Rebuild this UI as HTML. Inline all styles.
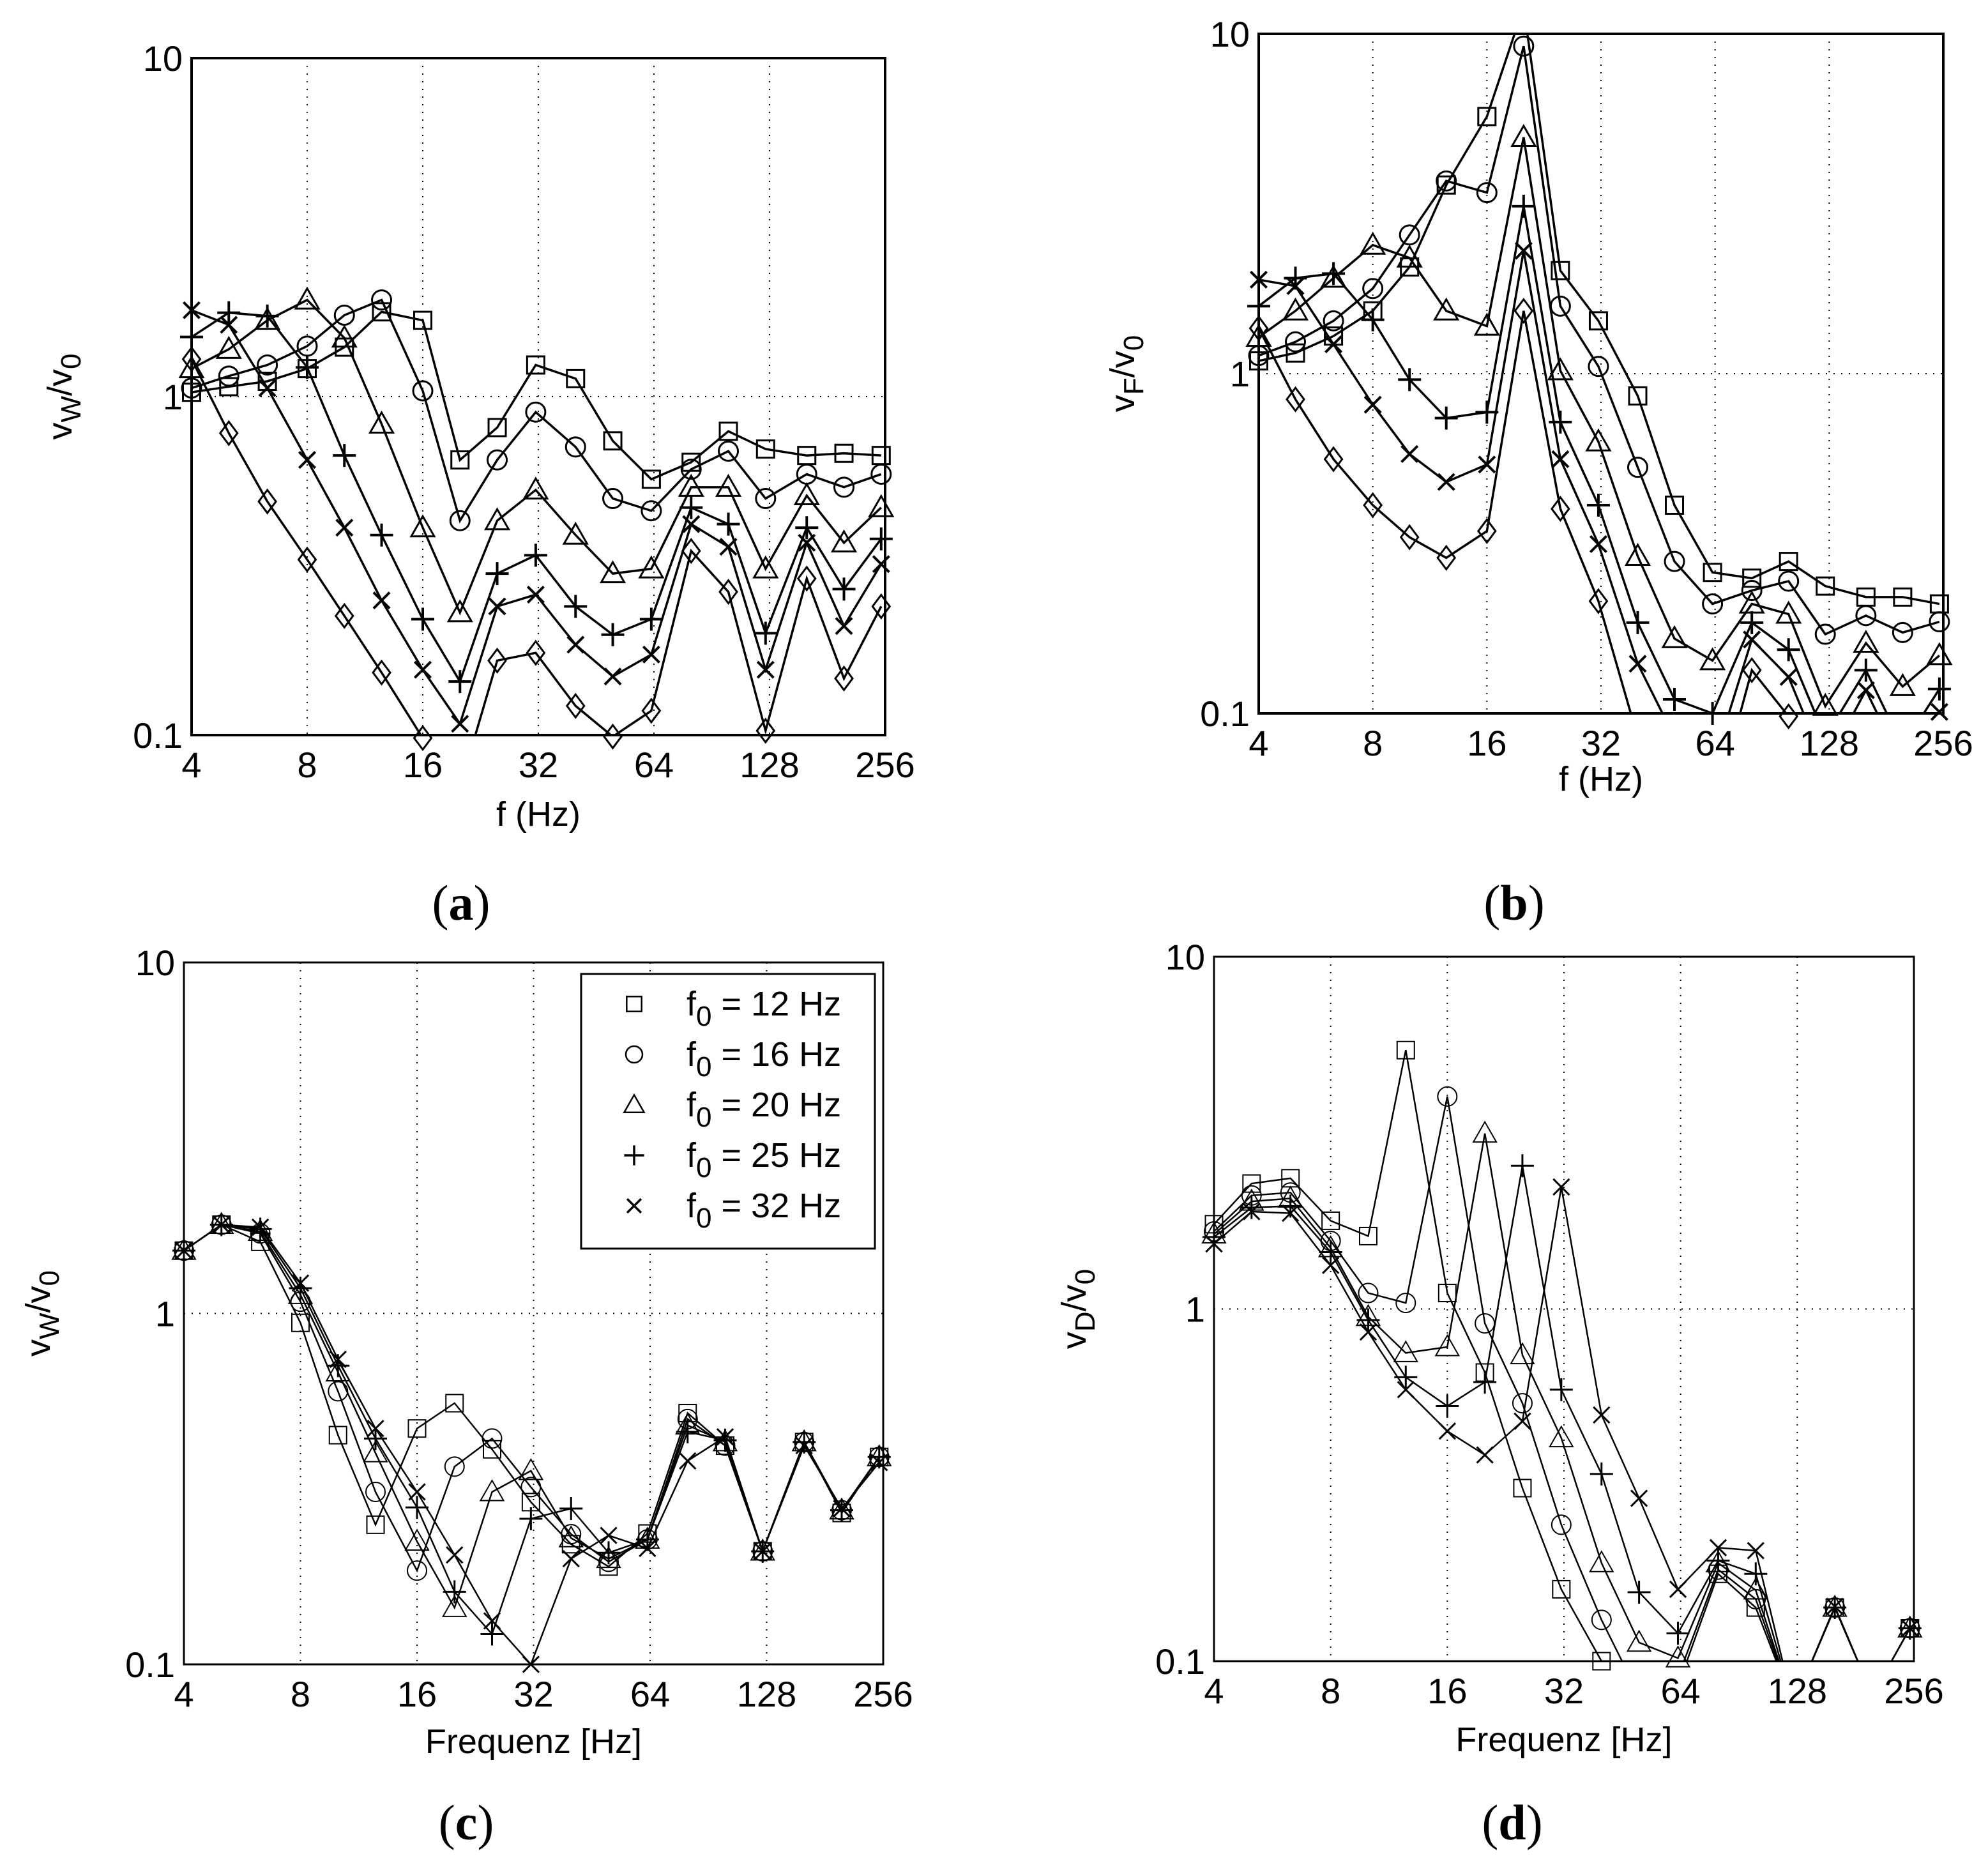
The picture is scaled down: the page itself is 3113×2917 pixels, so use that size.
<!DOCTYPE html>
<html><head><meta charset="utf-8"><style>
html,body{margin:0;padding:0;background:#fff;}
svg{display:block;}
text{font-family:"Liberation Sans",Arial,sans-serif;fill:#000;}
.cap{font-family:"Liberation Serif",serif;}
</style></head>
<body>
<svg id="fig" xmlns="http://www.w3.org/2000/svg" width="3113" height="2917" viewBox="0 0 3113 2917"></svg>
<script>
// shared x categories (third-octave frequencies, Hz)
const freqs = [4,5,6.3,8,10,12.5,16,20,25,31.5,40,50,63,80,100,125,160,200,250];
const xTicks = [4,8,16,32,64,128,256];
const yTicks = [0.1,1,10];
const yTickLabels = ["0.1","1","10"];
const legendLabels = ["12","16","20","25","32"];

// panel (a) vW/v0
const aSquare  = [1.03,1.07,1.11,1.21,1.40,1.78,1.68,0.65,0.81,1.24,1.13,0.74,0.57,0.64,0.79,0.70,0.67,0.68,0.67];
const aCircle  = [1.06,1.15,1.24,1.41,1.74,1.93,1.04,0.43,0.65,0.90,0.71,0.50,0.46,0.61,0.69,0.50,0.59,0.54,0.59];
const aTri     = [1.21,1.38,1.68,1.93,1.49,0.83,0.41,0.23,0.43,0.53,0.39,0.30,0.31,0.54,0.54,0.31,0.51,0.37,0.47];
const aPlus    = [1.50,1.77,1.73,1.22,0.67,0.39,0.22,0.144,0.30,0.34,0.24,0.198,0.22,0.47,0.42,0.20,0.41,0.27,0.38];
const aCross   = [1.80,1.63,1.06,0.65,0.41,0.25,0.156,0.108,0.24,0.26,0.185,0.149,0.173,0.42,0.36,0.156,0.37,0.21,0.32];
const aDiamond = [1.29,0.78,0.49,0.33,0.225,0.153,0.098,0.07,0.166,0.175,0.122,0.099,0.118,0.35,0.265,0.103,0.29,0.147,0.24];

// panel (b) vF/v0
const bSquare  = [1.09,1.15,1.29,1.53,2.06,3.59,5.71,12,2.01,1.43,0.86,0.41,0.26,0.25,0.28,0.237,0.22,0.22,0.21];
const bCircle  = [1.13,1.24,1.43,1.78,2.56,3.69,3.41,9.2,1.58,1.05,0.53,0.28,0.21,0.23,0.245,0.171,0.194,0.173,0.186];
const bTri     = [1.28,1.53,1.91,2.39,2.19,1.53,1.38,4.96,1.02,0.63,0.29,0.166,0.143,0.21,0.196,0.105,0.161,0.12,0.148];
const bPlus    = [1.58,1.91,1.97,1.44,0.96,0.74,0.77,3.11,0.72,0.41,0.185,0.110,0.1,0.185,0.154,0.085,0.134,0.08,0.118];
const bCross   = [1.89,1.81,1.22,0.81,0.58,0.48,0.54,2.30,0.56,0.315,0.14,0.085,0.07,0.165,0.128,0.07,0.117,0.07,0.101];
const bDiamond = [1.36,0.84,0.56,0.41,0.33,0.287,0.344,1.53,0.40,0.214,0.085,0.06,0.05,0.134,0.098,0.06,0.085,0.055,0.065];

// panel (c) vW/v0
const cSquare = [1.51,1.79,1.60,0.94,0.45,0.25,0.47,0.555,0.41,0.29,0.22,0.19,0.236,0.52,0.42,0.21,0.43,0.27,0.39];
const cCircle = [1.51,1.79,1.69,1.08,0.60,0.31,0.185,0.366,0.44,0.32,0.235,0.196,0.227,0.50,0.42,0.21,0.43,0.275,0.39];
const cTri    = [1.51,1.79,1.71,1.13,0.68,0.40,0.224,0.145,0.31,0.356,0.229,0.20,0.227,0.48,0.43,0.21,0.43,0.275,0.39];
const cPlus   = [1.51,1.79,1.74,1.18,0.71,0.44,0.28,0.161,0.122,0.26,0.278,0.208,0.227,0.46,0.435,0.21,0.43,0.275,0.39];
const cCross  = [1.51,1.79,1.76,1.22,0.74,0.47,0.31,0.205,0.133,0.1,0.20,0.233,0.214,0.38,0.445,0.21,0.42,0.278,0.376];

// panel (d) vD/v0
const dSquare = [1.74,2.27,2.35,1.78,1.61,5.43,1.11,0.66,0.31,0.160,0.1,0.07,0.085,0.177,0.142,0.075,0.142,0.08,0.124];
const dCircle = [1.66,2.10,2.14,1.56,1.11,1.04,4.01,0.91,0.54,0.244,0.131,0.08,0.09,0.182,0.15,0.075,0.142,0.08,0.124];
const dTri    = [1.63,2.02,2.06,1.49,0.95,0.75,0.78,3.15,0.74,0.43,0.19,0.113,0.102,0.19,0.159,0.075,0.142,0.08,0.124];
const dPlus   = [1.60,1.94,1.96,1.45,0.93,0.64,0.53,0.62,2.55,0.59,0.34,0.157,0.12,0.193,0.177,0.075,0.142,0.08,0.124];
const dCross  = [1.53,1.89,1.87,1.33,0.86,0.59,0.45,0.385,0.48,2.22,0.50,0.29,0.16,0.21,0.206,0.075,0.143,0.08,0.124];

const NS = "http://www.w3.org/2000/svg";
const svg = document.getElementById("fig");
function mk(tag, attrs, parent){
  const e = document.createElementNS(NS, tag);
  for (const k in attrs) e.setAttribute(k, attrs[k]);
  (parent||svg).appendChild(e);
  return e;
}

function drawMarker(g, type, x, y, s, sw){
  let m;
  if (type==="square") m = mk("rect",{x:x-s*0.45,y:y-s*0.45,width:s*0.9,height:s*0.9,fill:"none",stroke:"#000","stroke-width":sw},g);
  else if (type==="circle") m = mk("circle",{cx:x,cy:y,r:s*0.5,fill:"none",stroke:"#000","stroke-width":sw},g);
  else if (type==="tri") m = mk("polygon",{points:`${x},${y-s*0.6} ${x-s*0.6},${y+s*0.45} ${x+s*0.6},${y+s*0.45}`,fill:"none",stroke:"#000","stroke-width":sw},g);
  else if (type==="diamond") m = mk("polygon",{points:`${x},${y-s*0.6} ${x+s*0.45},${y} ${x},${y+s*0.6} ${x-s*0.45},${y}`,fill:"none",stroke:"#000","stroke-width":sw},g);
  else if (type==="plus") m = mk("path",{d:`M${x-s*0.6},${y}H${x+s*0.6}M${x},${y-s*0.6}V${y+s*0.6}`,stroke:"#000","stroke-width":sw+1,fill:"none"},g);
  else m = mk("path",{d:`M${x-s*0.42},${y-s*0.42}L${x+s*0.42},${y+s*0.42}M${x-s*0.42},${y+s*0.42}L${x+s*0.42},${y-s*0.42}`,stroke:"#000","stroke-width":sw+1,fill:"none"},g);
  return m;
}

function drawPanel(p){
  const g = mk("g",{});
  
  
  const W = p.x1-p.x0, H = p.y1-p.y0;
  const xs = f => p.x0 + Math.log2(f/4)/6*W;
  const ys = v => p.y1 - (Math.log10(v)+1)/2*H;
  const cid = "clip-"+p.id;
  const defs = mk("defs",{},g);
  const cp = mk("clipPath",{id:cid},defs);
  mk("rect",{x:p.x0,y:p.y0,width:W,height:H},cp);
  xTicks.forEach(t=>{
    const l = mk("line",{x1:xs(t),x2:xs(t),y1:p.y0,y2:p.y1,stroke:"#000","stroke-width":2,"stroke-dasharray":"2,10"},g);
    
    
    const tx = mk("text",{x:xs(t),y:p.y1+66,"font-size":56,"text-anchor":"middle"},g);
    tx.textContent = String(t);
    
    
  });
  yTicks.forEach((t,i)=>{
    const l = mk("line",{x1:p.x0,x2:p.x1,y1:ys(t),y2:ys(t),stroke:"#000","stroke-width":2,"stroke-dasharray":"2,10"},g);
    
    
    const tx = mk("text",{x:p.x0-14,y:ys(t)+20,"font-size":56,"text-anchor":"end"},g);
    tx.textContent = yTickLabels[i];
    
    
  });
  p.series.forEach(s=>{
    const sg = mk("g",{},g);
    
    
    const pts = s.data.map((v,i)=>`${xs(freqs[i])},${ys(v)}`).join(" ");
    const pl = mk("polyline",{points:pts,fill:"none",stroke:"#000","stroke-width":p.lw,"clip-path":`url(#${cid})`},sg);
    
    
    s.data.forEach((v,i)=>{
      if (v < 0.097 || v > 10.3) return;
      const m = drawMarker(sg, s.type, xs(freqs[i]), ys(v), p.ms, p.lw-0.5);
      
      
    });
  });
  const fr = mk("rect",{x:p.x0,y:p.y0,width:W,height:H,fill:"none",stroke:"#000","stroke-width":p.fw},g);
  
  
  const xt = mk("text",{x:(p.x0+p.x1)/2,y:p.xtY,"font-size":54,"text-anchor":"middle"},g);
  xt.textContent = p.xtitle;
  
  
  const ycx = p.ytX, ycy = (p.y0+p.y1)/2;
  const yt = mk("text",{x:ycx,y:ycy,"font-size":54,"text-anchor":"middle",transform:`rotate(-90 ${ycx} ${ycy})`},g);
  
  
  yt.innerHTML = `v<tspan dy="14" font-size="44">${p.ysub}</tspan><tspan dy="-14">/v</tspan><tspan dy="14" font-size="44">0</tspan>`;
  const cap = mk("text",{x:p.capX,y:p.capY,"font-size":78,"text-anchor":"middle","class":"cap"},g);
  cap.innerHTML = `(<tspan font-weight="bold">${p.id}</tspan>)`;
  
  
  return {g, xs, ys};
}

drawPanel({id:"a",name:"panel-a",x0:300,x1:1386,y0:91,y1:1151,lw:3.5,ms:30,fw:4,xtitle:"f (Hz)",xtY:1293,ytX:112,ysub:"W",capX:722,capY:1440,
  series:[{type:"square",data:aSquare},{type:"circle",data:aCircle},{type:"tri",data:aTri},{type:"plus",data:aPlus},{type:"cross",data:aCross},{type:"diamond",data:aDiamond}]});
drawPanel({id:"b",name:"panel-b",x0:1971,x1:3043,y0:53,y1:1117,lw:3.5,ms:30,fw:4,xtitle:"f (Hz)",xtY:1238,ytX:1776,ysub:"F",capX:2371,capY:1440,
  series:[{type:"square",data:bSquare},{type:"circle",data:bCircle},{type:"tri",data:bTri},{type:"plus",data:bPlus},{type:"cross",data:bCross},{type:"diamond",data:bDiamond}]});
drawPanel({id:"c",name:"panel-c",x0:288,x1:1383,y0:1507,y1:2606,lw:2.5,ms:30,fw:3,xtitle:"Frequenz [Hz]",xtY:2745,ytX:78,ysub:"W",capX:730,capY:2880,
  series:[{type:"square",data:cSquare},{type:"circle",data:cCircle},{type:"tri",data:cTri},{type:"plus",data:cPlus},{type:"cross",data:cCross}]});
drawPanel({id:"d",name:"panel-d",x0:1901,x1:2997,y0:1498,y1:2601,lw:2.5,ms:30,fw:3,xtitle:"Frequenz [Hz]",xtY:2742,ytX:1700,ysub:"D",capX:2368,capY:2880,
  series:[{type:"square",data:dSquare},{type:"circle",data:dCircle},{type:"tri",data:dTri},{type:"plus",data:dPlus},{type:"cross",data:dCross}]});

const lg = mk("g",{});


const lbox = mk("rect",{x:910,y:1525,width:460,height:430,fill:"#fff",stroke:"#000","stroke-width":3},lg);


const ltypes = ["square","circle","tri","plus","cross"];
legendLabels.forEach((lab,i)=>{
  const y = 1572 + i*79;
  const e = mk("g",{},lg);
  
  
  drawMarker(e, ltypes[i], 993, y, 26, 2.5);
  const t = mk("text",{x:1075,y:y+18,"font-size":54},e);
  t.innerHTML = `f<tspan dy="16" font-size="44">0</tspan><tspan dy="-16"> = ${lab} Hz</tspan>`;
});
</script>
</body></html>
